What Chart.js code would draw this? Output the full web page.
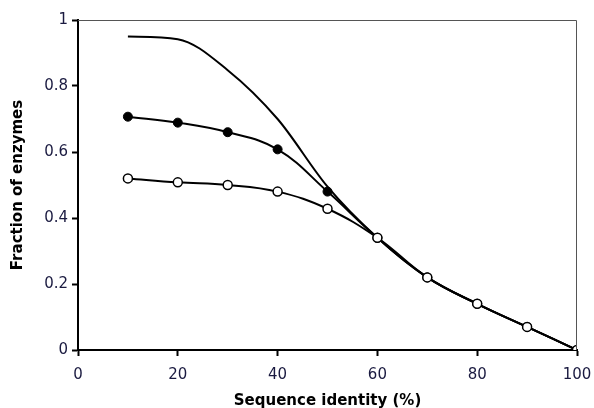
<!DOCTYPE html>
<html>
<head>
<meta charset="utf-8">
<script src="https://cdn.jsdelivr.net/npm/chart.js@4"></script>
<style>
  html, body { margin: 0; padding: 0; background: #fff; }
  #box { width: 594px; height: 408px; }
</style>
</head>
<body>
<div id="box"><canvas id="grafico"></canvas></div>
<script>
// sequence identity (%)
var identidade = [10, 20, 30, 40, 50, 60, 70, 80, 90, 100]
var curva_topo = [0.95, 0.942, 0.848, 0.70, 0.495, 0.34, 0.22, 0.14, 0.07, 0]
var pontos_cheios = [0.707, 0.689, 0.66, 0.608, 0.48, 0.34, 0.22, 0.14, 0.07, 0]
var pontos_vazios = [0.52, 0.508, 0.50, 0.48, 0.428, 0.34, 0.22, 0.14, 0.07, 0]
var ticks_x = [0, 20, 40, 60, 80, 100]
var ticks_y = [0, 0.2, 0.4, 0.6, 0.8, 1]

function monta_pontos(valores){
    var pts = []
    for(let i = 0; i < identidade.length; i++){
        pts.push({x: identidade[i], y: valores[i]})
    }
    return pts
}

// thin grey frame on top and right like the original
const moldura = {
    id: 'moldura',
    afterDraw(chart){
        const a = chart.chartArea
        const ctx = chart.ctx
        ctx.save()
        ctx.strokeStyle = '#555'
        ctx.lineWidth = 1
        ctx.beginPath()
        ctx.moveTo(a.left, a.top + 0.5)
        ctx.lineTo(a.right - 0.5, a.top + 0.5)
        ctx.lineTo(a.right - 0.5, a.bottom)
        ctx.stroke()
        ctx.restore()
    }
}

const ctx = document.getElementById('grafico').getContext('2d')
const myChart = new Chart(ctx, {
    type: 'line',
    data: {
        datasets: [{
            label: 'topo',
            data: monta_pontos(curva_topo),
            borderColor: '#000',
            borderWidth: 2,
            pointRadius: 0,
            cubicInterpolationMode: 'monotone',
            order: 2
        }, {
            label: 'cheios',
            data: monta_pontos(pontos_cheios),
            borderColor: '#000',
            backgroundColor: '#000',
            borderWidth: 2,
            pointRadius: 4.5,
            pointBorderWidth: 1,
            pointBackgroundColor: '#000',
            pointBorderColor: '#000',
            tension: 0.4,
            order: 1
        }, {
            label: 'vazios',
            data: monta_pontos(pontos_vazios),
            borderColor: '#000',
            backgroundColor: '#fff',
            borderWidth: 2,
            pointRadius: 4.5,
            pointBorderWidth: 1.5,
            pointBackgroundColor: '#fff',
            pointBorderColor: '#000',
            tension: 0.4,
            order: 0
        }]
    },
    options: {
        responsive: true,
        maintainAspectRatio: false,
        animation: false,
        layout: { padding: { top: 20, right: 17, left: 0, bottom: 0 } },
        plugins: {
            legend: { display: false },
            tooltip: { enabled: false }
        },
        scales: {
            x: {
                type: 'linear',
                min: 0,
                max: 100,
                afterBuildTicks: function(scale){ scale.ticks = ticks_x.map(v => ({value: v})) },
                afterFit: function(scale){
                    scale.height = 58
                    scale.paddingLeft = 0
                    scale.paddingRight = 0
                },
                grid: { drawOnChartArea: false, tickLength: 6, tickColor: '#000', tickWidth: 2 },
                border: { color: '#000', width: 2 },
                ticks: { color: '#1a1a40', font: { family: 'DejaVu Sans', size: 15 }, padding: 10 },
                title: {
                    display: true,
                    text: 'Sequence identity (%)',
                    color: '#000',
                    font: { family: 'DejaVu Sans', size: 15, weight: 'bold' },
                    padding: { top: 0, bottom: -2 }
                }
            },
            y: {
                min: 0,
                max: 1,
                afterBuildTicks: function(scale){ scale.ticks = ticks_y.map(v => ({value: v})) },
                afterFit: function(scale){ scale.width = 78 },
                grid: { drawOnChartArea: false, tickLength: 6, tickColor: '#000', tickWidth: 2 },
                border: { color: '#000', width: 2 },
                ticks: {
                    color: '#1a1a40',
                    font: { family: 'DejaVu Sans', size: 15 },
                    padding: 4,
                    callback: function(v){ return String(v) }
                },
                title: {
                    display: true,
                    text: 'Fraction of enzymes',
                    color: '#000',
                    font: { family: 'DejaVu Sans', size: 15, weight: 'bold' },
                    padding: { top: 9, bottom: 0 }
                }
            }
        }
    },
    plugins: [moldura]
})
</script>
</body>
</html>
